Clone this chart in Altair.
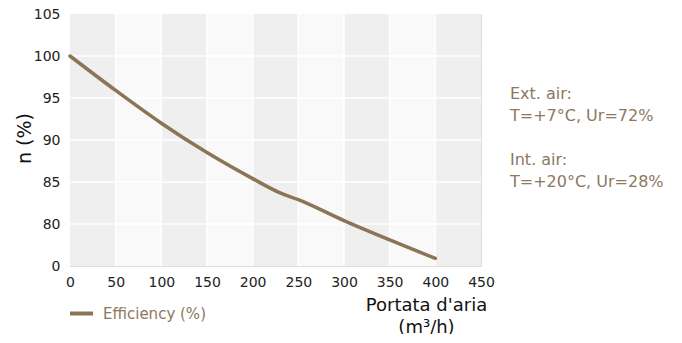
import altair as alt
import pandas as pd

# data
flow = [0, 50, 100, 150, 200, 230, 250, 300, 350, 400]
efficiency = [100, 95.9, 92.0, 88.5, 85.4, 83.7, 82.9, 80.4, 78.1, 75.9]
series_name = ["Efficiency (%)"]
band_start = [0, 50, 100, 150, 200, 250, 300, 350, 400]
band_end = [50, 100, 150, 200, 250, 300, 350, 400, 450]
band_shade = ["dark", "light", "dark", "light", "dark", "light", "dark", "light", "dark"]
x_ticks = [0, 50, 100, 150, 200, 250, 300, 350, 400, 450]
y_ticks = [75, 80, 85, 90, 95, 100, 105]
v_grid = [50, 100, 150, 200, 250, 300, 350, 400]
h_grid = [80, 85, 90, 95, 100]
note_ext = ["Ext. air:", "T=+7°C, Ur=72%"]
note_int = ["Int. air:", "T=+20°C, Ur=28%"]

LINE = "#8c7456"
TEXT_BROWN = "#8d7860"
FONT = "DejaVu Sans"

line_df = pd.DataFrame({"flow": flow, "eff": efficiency, "series": series_name * len(flow)})
band_df = pd.DataFrame({"x0": band_start, "x1": band_end, "shade": band_shade})

xscale = alt.Scale(domain=[0, 450], nice=False, zero=False)
yscale = alt.Scale(domain=[75, 105], nice=False, zero=False)

x_axis = alt.Axis(values=x_ticks, grid=False, domain=False, ticks=False, labelFlush=False,
                  labelFontSize=14, labelColor="#222222", labelPadding=9, labelFont=FONT,
                  title=["Portata d'aria", "(m³/h)"], titleFontSize=18, titleFontWeight="normal",
                  titleColor="#111111", titleFont=FONT, titleAnchor="start", titleAlign="center",
                  titleBaseline="alphabetic", titleX=356, titleY=44, titleLineHeight=22)
y_axis = alt.Axis(values=y_ticks, grid=False, domain=False, ticks=False, labelFlush=False,
                  labelExpr="datum.value == 75 ? '0' : datum.label",
                  labelFontSize=14, labelColor="#222222", labelPadding=10, labelFont=FONT,
                  title="n (%)", titleFontSize=19, titleFontWeight="normal", titleColor="#111111",
                  titleFont=FONT, titleAngle=-90, titleBaseline="alphabetic", titleAlign="center",
                  titleX=-40, titleY=124)

bands = alt.Chart(band_df).mark_rect().encode(
    x=alt.X("x0:Q", scale=xscale, axis=x_axis),
    x2="x1:Q",
    y=alt.Y(datum=75, scale=yscale, axis=y_axis),
    y2=alt.Y2(datum=105),
    color=alt.Color("shade:N", scale=alt.Scale(domain=["dark", "light"], range=["#efefef", "#f9f9f9"]), legend=None),
)

vrules = alt.Chart(pd.DataFrame({"v": v_grid})).mark_rule(color="white", strokeWidth=1.5).encode(
    x=alt.X("v:Q", scale=xscale)
)
hrules = alt.Chart(pd.DataFrame({"h": h_grid})).mark_rule(color="white", strokeWidth=1.5).encode(
    y=alt.Y("h:Q", scale=yscale)
)

line = alt.Chart(line_df).mark_line(strokeWidth=3.5, interpolate="monotone", strokeCap="round").encode(
    x=alt.X("flow:Q", scale=xscale),
    y=alt.Y("eff:Q", scale=yscale),
    color=alt.Color("series:N", scale=alt.Scale(domain=series_name, range=[LINE]),
                    legend=alt.Legend(title=None, orient="none", legendX=-2, legendY=286,
                                      symbolType="stroke", symbolStrokeWidth=4, symbolSize=529,
                                      labelFontSize=15, labelColor=TEXT_BROWN, labelFont=FONT,
                                      labelOffset=8, padding=0)),
)

note1 = alt.Chart(pd.DataFrame({"t": [note_ext]})).mark_text(
    align="left", baseline="alphabetic", fontSize=16, font=FONT, color=TEXT_BROWN, lineHeight=22
).encode(text="t", x=alt.value(440), y=alt.value(85))
note2 = alt.Chart(pd.DataFrame({"t": [note_int]})).mark_text(
    align="left", baseline="alphabetic", fontSize=16, font=FONT, color=TEXT_BROWN, lineHeight=22
).encode(text="t", x=alt.value(440), y=alt.value(151))

chart = alt.layer(bands, vrules, hrules, line, note1, note2).resolve_scale(color="independent").properties(
    width=411, height=252,
    autosize=alt.AutoSizeParams(type="none"),
    padding={"left": 62, "top": 6, "right": 190, "bottom": 68},
).configure_view(stroke=None).configure(background="white")

chart.save("out.html", embed_options={"renderer": "svg", "actions": False})
